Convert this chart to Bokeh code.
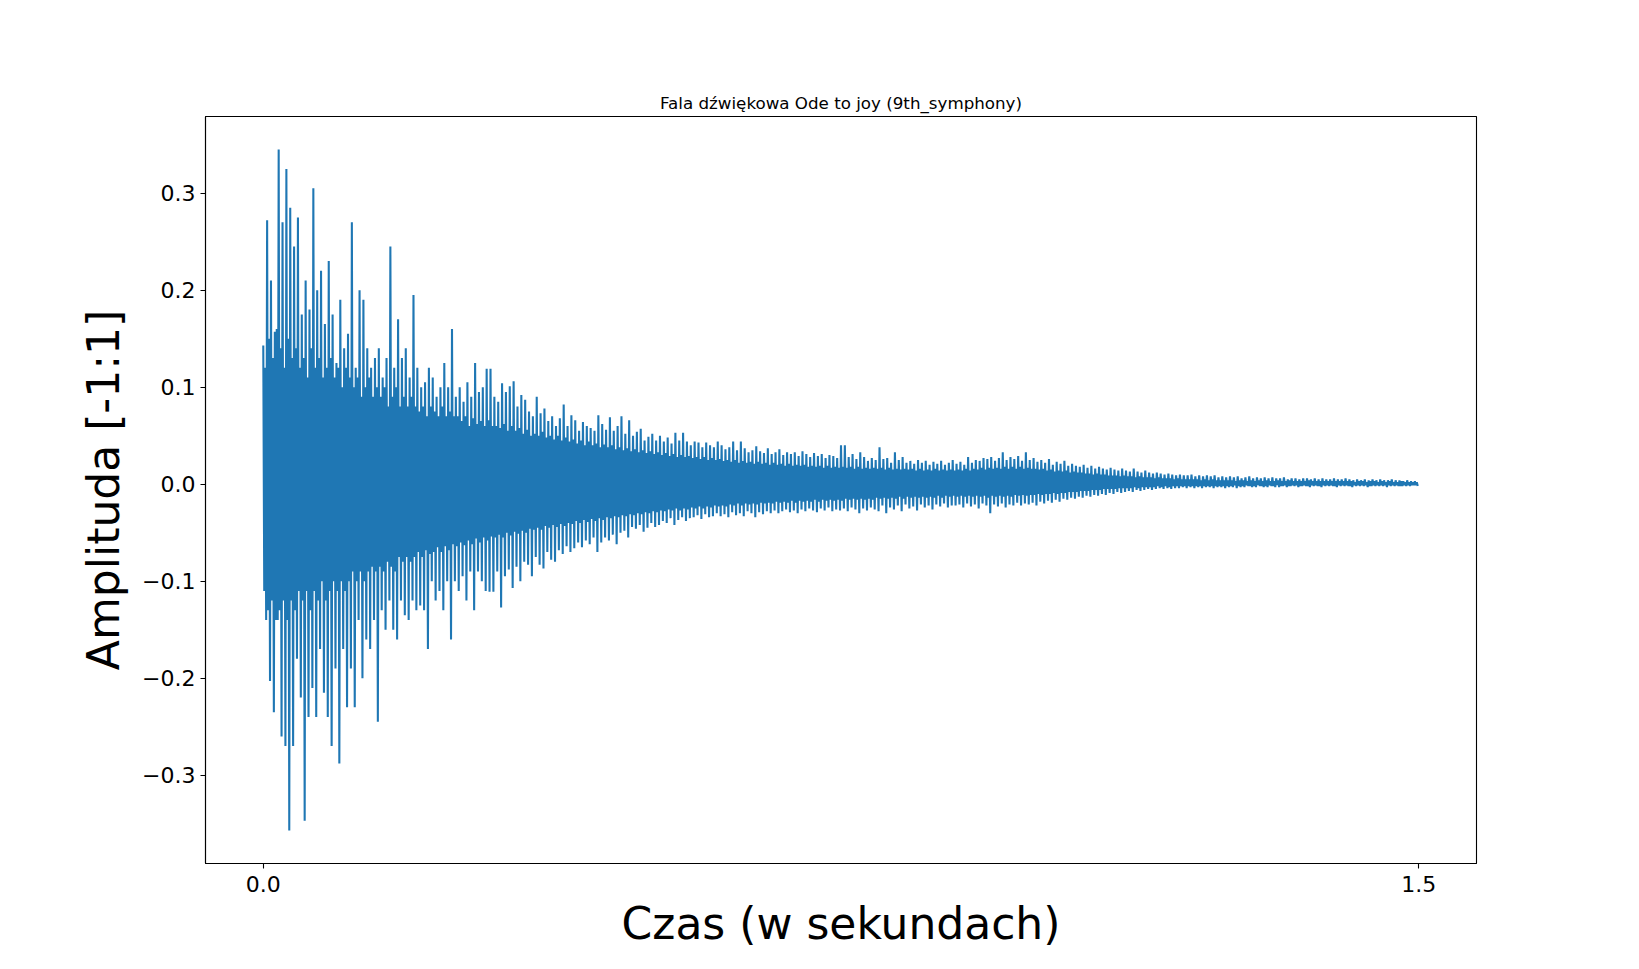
import numpy as np
from bokeh.plotting import figure
from bokeh.models import Range1d, FixedTicker, CustomJSTickFormatter
from bokeh.embed import file_html
from bokeh.resources import INLINE

title_text = "Fala dźwiękowa Ode to joy (9th_symphony)"
x_label = "Czas (w sekundach)"
y_label = "Amplituda [-1:1]"

x_ticks = [0.0, 1.5]
y_ticks = [-0.3, -0.2, -0.1, 0.0, 0.1, 0.2, 0.3]

# time between two read-off positive peaks (seconds)
sample_step = 0.005

# outer positive peaks (the spikes), one every sample_step
upper = [
    0.143, 0.272, 0.21, 0.157, 0.345, 0.27, 0.325, 0.285, 0.245, 0.275,
    0.175, 0.21, 0.18, 0.305, 0.2, 0.22, 0.165, 0.23, 0.175, 0.125,
    0.19, 0.14, 0.155, 0.27, 0.12, 0.2, 0.19, 0.14, 0.12, 0.13,
    0.14, 0.11, 0.13, 0.245, 0.12, 0.17, 0.13, 0.14, 0.11, 0.195,
    0.12, 0.1, 0.105, 0.12, 0.11, 0.09, 0.1, 0.125, 0.1, 0.16,
    0.09, 0.1, 0.085, 0.105, 0.09, 0.125, 0.095, 0.1, 0.119, 0.119,
    0.09, 0.085, 0.104, 0.095, 0.101, 0.106, 0.08, 0.092, 0.087, 0.075,
    0.07, 0.09, 0.073, 0.078, 0.065, 0.07, 0.06, 0.068, 0.082, 0.06,
    0.071, 0.066, 0.055, 0.064, 0.06, 0.058, 0.055, 0.071, 0.062, 0.056,
    0.069, 0.055, 0.06, 0.07, 0.052, 0.066, 0.05, 0.054, 0.057, 0.045,
    0.049, 0.052, 0.045, 0.05, 0.044, 0.048, 0.042, 0.053, 0.045, 0.053,
    0.044, 0.04, 0.044, 0.043, 0.038, 0.043, 0.04, 0.038, 0.044, 0.04,
    0.036, 0.038, 0.044, 0.035, 0.044, 0.037, 0.033, 0.035, 0.039, 0.034,
    0.032, 0.037, 0.031, 0.033, 0.036, 0.03, 0.033, 0.031, 0.033, 0.029,
    0.034, 0.031, 0.028, 0.032, 0.029, 0.031, 0.027, 0.03, 0.029, 0.027,
    0.04, 0.04, 0.028, 0.031, 0.026, 0.033, 0.028, 0.024, 0.027, 0.025,
    0.038, 0.026, 0.027, 0.022, 0.033, 0.025, 0.028, 0.022, 0.024, 0.021,
    0.025, 0.022, 0.024, 0.02, 0.023, 0.021, 0.024, 0.02, 0.022, 0.025,
    0.021, 0.023, 0.02, 0.028, 0.022, 0.025, 0.024, 0.027, 0.026, 0.028,
    0.024, 0.027, 0.033, 0.025, 0.028, 0.026, 0.029, 0.024, 0.033, 0.025,
    0.027, 0.023, 0.025, 0.022, 0.026, 0.02, 0.023, 0.021, 0.024, 0.019,
    0.021, 0.019, 0.018, 0.02, 0.017, 0.019, 0.016, 0.018, 0.016, 0.015,
    0.017, 0.015, 0.014, 0.016, 0.014, 0.013, 0.016, 0.013, 0.012, 0.014,
    0.012, 0.011, 0.012, 0.011, 0.01, 0.011, 0.01, 0.009, 0.01, 0.009,
    0.009, 0.01, 0.008, 0.009, 0.008, 0.009, 0.008, 0.009, 0.007, 0.008,
    0.007, 0.008, 0.007, 0.008, 0.006, 0.007, 0.008, 0.006, 0.007, 0.006,
    0.007, 0.006, 0.007, 0.006, 0.006, 0.007, 0.005, 0.006, 0.006, 0.005,
    0.006, 0.006, 0.005, 0.006, 0.005, 0.006, 0.005, 0.005, 0.006, 0.005,
    0.005, 0.006, 0.005, 0.004, 0.005, 0.004, 0.005, 0.004, 0.005, 0.004,
    0.005, 0.004, 0.004, 0.005, 0.004, 0.004, 0.003, 0.004, 0.003, 0.003,
]

# outer negative peaks (the spikes)
lower = [
    -0.14, -0.203, -0.235, -0.14, -0.26, -0.27, -0.357, -0.27, -0.18, -0.22,
    -0.347, -0.24, -0.21, -0.24, -0.17, -0.215, -0.24, -0.27, -0.19, -0.288,
    -0.17, -0.23, -0.19, -0.23, -0.14, -0.2, -0.16, -0.17, -0.14, -0.245,
    -0.13, -0.15, -0.12, -0.15, -0.16, -0.12, -0.135, -0.14, -0.12, -0.13,
    -0.125, -0.13, -0.17, -0.1, -0.12, -0.11, -0.13, -0.1, -0.16, -0.1,
    -0.11, -0.095, -0.12, -0.09, -0.13, -0.09, -0.1, -0.11, -0.111, -0.111,
    -0.09, -0.127, -0.095, -0.088, -0.107, -0.085, -0.1, -0.08, -0.083, -0.095,
    -0.075, -0.083, -0.087, -0.07, -0.078, -0.08, -0.068, -0.072, -0.064, -0.07,
    -0.066, -0.06, -0.065, -0.058, -0.062, -0.055, -0.07, -0.06, -0.055, -0.058,
    -0.052, -0.062, -0.05, -0.048, -0.055, -0.044, -0.046, -0.042, -0.049, -0.045,
    -0.04, -0.044, -0.042, -0.038, -0.04, -0.035, -0.042, -0.037, -0.034, -0.038,
    -0.035, -0.034, -0.032, -0.036, -0.031, -0.034, -0.033, -0.03, -0.033, -0.031,
    -0.034, -0.029, -0.032, -0.03, -0.033, -0.028, -0.03, -0.034, -0.029, -0.031,
    -0.028, -0.03, -0.027, -0.03, -0.028, -0.026, -0.029, -0.027, -0.03, -0.026,
    -0.028, -0.025, -0.027, -0.029, -0.025, -0.027, -0.024, -0.028, -0.026, -0.027,
    -0.025, -0.028, -0.024, -0.026, -0.03, -0.025, -0.027, -0.024, -0.026, -0.028,
    -0.022, -0.03, -0.024, -0.026, -0.022, -0.028, -0.021, -0.025, -0.023, -0.027,
    -0.021, -0.024, -0.022, -0.026, -0.021, -0.023, -0.02, -0.024, -0.022, -0.022,
    -0.021, -0.024, -0.02, -0.023, -0.021, -0.025, -0.02, -0.022, -0.03, -0.021,
    -0.023, -0.02, -0.024, -0.021, -0.022, -0.019, -0.022, -0.02, -0.021, -0.019,
    -0.022, -0.018, -0.02, -0.017, -0.019, -0.016, -0.018, -0.015, -0.016, -0.014,
    -0.015, -0.013, -0.014, -0.012, -0.013, -0.011, -0.012, -0.01, -0.011, -0.009,
    -0.01, -0.008, -0.009, -0.008, -0.007, -0.008, -0.006, -0.007, -0.006, -0.005,
    -0.006, -0.005, -0.004, -0.005, -0.004, -0.005, -0.004, -0.004, -0.003, -0.004,
    -0.003, -0.004, -0.003, -0.004, -0.003, -0.003, -0.004, -0.003, -0.003, -0.004,
    -0.003, -0.003, -0.004, -0.003, -0.003, -0.002, -0.003, -0.003, -0.002, -0.003,
    -0.003, -0.002, -0.003, -0.003, -0.002, -0.003, -0.002, -0.002, -0.003, -0.002,
    -0.002, -0.003, -0.002, -0.002, -0.003, -0.002, -0.002, -0.002, -0.003, -0.002,
    -0.002, -0.002, -0.003, -0.002, -0.002, -0.002, -0.003, -0.002, -0.002, -0.002,
    -0.002, -0.003, -0.002, -0.002, -0.002, -0.002, -0.002, -0.002, -0.001, -0.002,
]

# smaller positive swings between the spikes (the dense core)
upper_mid = [
    0.12, 0.15, 0.13, 0.16, 0.14, 0.12, 0.15, 0.13, 0.14, 0.12,
    0.13, 0.11, 0.14, 0.12, 0.13, 0.11, 0.12, 0.13, 0.11, 0.12,
    0.1, 0.12, 0.11, 0.1, 0.11, 0.09, 0.1, 0.11, 0.09, 0.1,
    0.09, 0.1, 0.08, 0.09, 0.1, 0.08, 0.09, 0.08, 0.09, 0.08,
    0.075, 0.08, 0.07, 0.08, 0.075, 0.07, 0.08, 0.07, 0.075, 0.07,
    0.07, 0.065, 0.07, 0.06, 0.068, 0.062, 0.065, 0.06, 0.066, 0.06,
    0.06, 0.058, 0.062, 0.055, 0.06, 0.055, 0.058, 0.052, 0.056, 0.05,
    0.052, 0.05, 0.054, 0.048, 0.05, 0.046, 0.05, 0.045, 0.048, 0.044,
    0.046, 0.042, 0.045, 0.04, 0.044, 0.04, 0.042, 0.038, 0.041, 0.038,
    0.04, 0.036, 0.038, 0.035, 0.037, 0.034, 0.036, 0.033, 0.035, 0.032,
    0.034, 0.031, 0.033, 0.03, 0.032, 0.029, 0.031, 0.028, 0.03, 0.028,
    0.029, 0.027, 0.028, 0.026, 0.028, 0.025, 0.027, 0.025, 0.026, 0.024,
    0.025, 0.023, 0.025, 0.022, 0.024, 0.022, 0.023, 0.021, 0.023, 0.021,
    0.022, 0.02, 0.022, 0.02, 0.021, 0.019, 0.021, 0.019, 0.02, 0.019,
    0.02, 0.018, 0.019, 0.018, 0.019, 0.017, 0.019, 0.017, 0.018, 0.017,
    0.018, 0.017, 0.018, 0.016, 0.018, 0.016, 0.017, 0.016, 0.017, 0.016,
    0.017, 0.015, 0.017, 0.015, 0.016, 0.015, 0.016, 0.015, 0.016, 0.014,
    0.016, 0.014, 0.015, 0.014, 0.016, 0.014, 0.015, 0.014, 0.015, 0.014,
    0.015, 0.014, 0.016, 0.014, 0.016, 0.015, 0.017, 0.015, 0.017, 0.016,
    0.017, 0.016, 0.018, 0.016, 0.018, 0.016, 0.018, 0.016, 0.017, 0.016,
    0.016, 0.015, 0.016, 0.014, 0.015, 0.013, 0.014, 0.013, 0.014, 0.012,
    0.013, 0.012, 0.012, 0.011, 0.011, 0.01, 0.011, 0.01, 0.01, 0.009,
    0.009, 0.009, 0.008, 0.009, 0.008, 0.008, 0.007, 0.008, 0.007, 0.007,
    0.007, 0.006, 0.007, 0.006, 0.006, 0.006, 0.005, 0.006, 0.005, 0.005,
    0.005, 0.005, 0.005, 0.004, 0.005, 0.004, 0.005, 0.004, 0.004, 0.004,
    0.004, 0.004, 0.003, 0.004, 0.004, 0.003, 0.004, 0.003, 0.004, 0.003,
    0.004, 0.003, 0.003, 0.004, 0.003, 0.003, 0.004, 0.003, 0.003, 0.003,
    0.003, 0.004, 0.003, 0.003, 0.003, 0.003, 0.003, 0.003, 0.003, 0.003,
    0.003, 0.003, 0.003, 0.002, 0.003, 0.003, 0.002, 0.003, 0.003, 0.002,
    0.003, 0.002, 0.003, 0.002, 0.002, 0.003, 0.002, 0.002, 0.002, 0.002,
]

# smaller negative swings between the spikes
lower_mid = [
    -0.11, -0.13, -0.12, -0.14, -0.13, -0.12, -0.14, -0.12, -0.13, -0.11,
    -0.12, -0.11, -0.13, -0.11, -0.12, -0.1, -0.12, -0.11, -0.1, -0.11,
    -0.1, -0.11, -0.1, -0.09, -0.1, -0.09, -0.1, -0.09, -0.085, -0.09,
    -0.085, -0.09, -0.08, -0.085, -0.09, -0.075, -0.08, -0.075, -0.08, -0.075,
    -0.07, -0.075, -0.068, -0.072, -0.07, -0.065, -0.07, -0.064, -0.068, -0.062,
    -0.064, -0.06, -0.063, -0.058, -0.062, -0.056, -0.06, -0.055, -0.058, -0.054,
    -0.055, -0.052, -0.055, -0.05, -0.053, -0.049, -0.051, -0.048, -0.05, -0.046,
    -0.047, -0.045, -0.047, -0.043, -0.045, -0.042, -0.044, -0.041, -0.043, -0.04,
    -0.041, -0.038, -0.04, -0.037, -0.039, -0.036, -0.038, -0.035, -0.037, -0.034,
    -0.035, -0.033, -0.034, -0.032, -0.033, -0.031, -0.032, -0.03, -0.031, -0.029,
    -0.03, -0.028, -0.029, -0.027, -0.028, -0.026, -0.027, -0.025, -0.027, -0.025,
    -0.026, -0.024, -0.025, -0.023, -0.025, -0.023, -0.024, -0.022, -0.023, -0.022,
    -0.023, -0.021, -0.022, -0.02, -0.022, -0.02, -0.021, -0.02, -0.021, -0.019,
    -0.02, -0.019, -0.02, -0.018, -0.019, -0.018, -0.019, -0.017, -0.019, -0.017,
    -0.018, -0.017, -0.018, -0.016, -0.018, -0.016, -0.017, -0.016, -0.017, -0.016,
    -0.017, -0.015, -0.016, -0.015, -0.016, -0.015, -0.016, -0.015, -0.016, -0.014,
    -0.015, -0.014, -0.015, -0.014, -0.015, -0.013, -0.015, -0.013, -0.014, -0.013,
    -0.014, -0.013, -0.014, -0.013, -0.014, -0.012, -0.014, -0.012, -0.013, -0.012,
    -0.013, -0.012, -0.013, -0.012, -0.013, -0.012, -0.013, -0.012, -0.014, -0.012,
    -0.013, -0.012, -0.013, -0.012, -0.013, -0.011, -0.012, -0.011, -0.012, -0.011,
    -0.011, -0.01, -0.011, -0.01, -0.01, -0.009, -0.01, -0.009, -0.009, -0.008,
    -0.008, -0.008, -0.007, -0.007, -0.007, -0.006, -0.006, -0.006, -0.005, -0.005,
    -0.005, -0.005, -0.004, -0.004, -0.004, -0.004, -0.003, -0.004, -0.003, -0.003,
    -0.003, -0.003, -0.002, -0.003, -0.002, -0.003, -0.002, -0.002, -0.002, -0.002,
    -0.002, -0.002, -0.002, -0.002, -0.002, -0.002, -0.002, -0.002, -0.002, -0.002,
    -0.002, -0.002, -0.001, -0.002, -0.002, -0.001, -0.002, -0.002, -0.001, -0.002,
    -0.002, -0.001, -0.002, -0.001, -0.002, -0.001, -0.002, -0.001, -0.001, -0.002,
    -0.001, -0.002, -0.001, -0.001, -0.002, -0.001, -0.001, -0.001, -0.002, -0.001,
    -0.001, -0.001, -0.002, -0.001, -0.001, -0.001, -0.001, -0.002, -0.001, -0.001,
    -0.001, -0.001, -0.001, -0.001, -0.001, -0.002, -0.001, -0.001, -0.001, -0.001,
]

# interleave into one wave: spike up, small down, small up, spike down
n = len(upper)
base = np.arange(n) * sample_step
t = np.empty(4 * n)
amp = np.empty(4 * n)
t[0::4] = base
t[1::4] = base + sample_step / 4
t[2::4] = base + sample_step / 2
t[3::4] = base + 3 * sample_step / 4
amp[0::4] = upper
amp[1::4] = lower_mid
amp[2::4] = upper_mid
amp[3::4] = lower

p = figure(frame_width=1271, frame_height=747,
           min_border_left=205, min_border_top=116,
           min_border_right=143, min_border_bottom=88,
           x_range=Range1d(-0.075, 1.575), y_range=Range1d(-0.391, 0.379),
           title=title_text, output_backend="svg", toolbar_location=None,
           background_fill_color="white", border_fill_color="white")

p.line(t, amp, line_width=2.08, line_color="#1f77b4")

p.title.text_font = "DejaVu Sans"
p.title.text_font_size = "16.7px"
p.title.text_font_style = "normal"
p.title.text_color = "black"
p.title.align = "center"
p.title.standoff = 7

p.grid.visible = False
p.outline_line_color = "black"
p.outline_line_width = 1.1
p.outline_line_alpha = 1.0

fmt = CustomJSTickFormatter(code="return tick.toFixed(1).replace('-', '\u2212');")
p.xaxis.ticker = FixedTicker(ticks=x_ticks)
p.yaxis.ticker = FixedTicker(ticks=y_ticks)
p.xaxis.axis_label = x_label
p.yaxis.axis_label = y_label
for ax in (p.xaxis, p.yaxis):
    ax.formatter = fmt
    ax.major_label_text_font = "DejaVu Sans"
    ax.major_label_text_font_size = "22px"
    ax.major_label_text_color = "black"
    ax.axis_label_text_font = "DejaVu Sans"
    ax.axis_label_text_font_size = "44px"
    ax.axis_label_text_font_style = "normal"
    ax.axis_label_text_color = "black"
    ax.axis_line_color = "black"
    ax.axis_line_width = 1.1
    ax.major_tick_line_color = "black"
    ax.major_tick_line_width = 1.1
    ax.major_tick_in = 0
    ax.major_tick_out = 5
    ax.minor_tick_line_color = None
p.xaxis.major_label_standoff = 7
p.xaxis.axis_label_standoff = 3
p.yaxis.major_label_standoff = 5
p.yaxis.axis_label_standoff = 10

open("out.html", "w").write(file_html(p, INLINE))
